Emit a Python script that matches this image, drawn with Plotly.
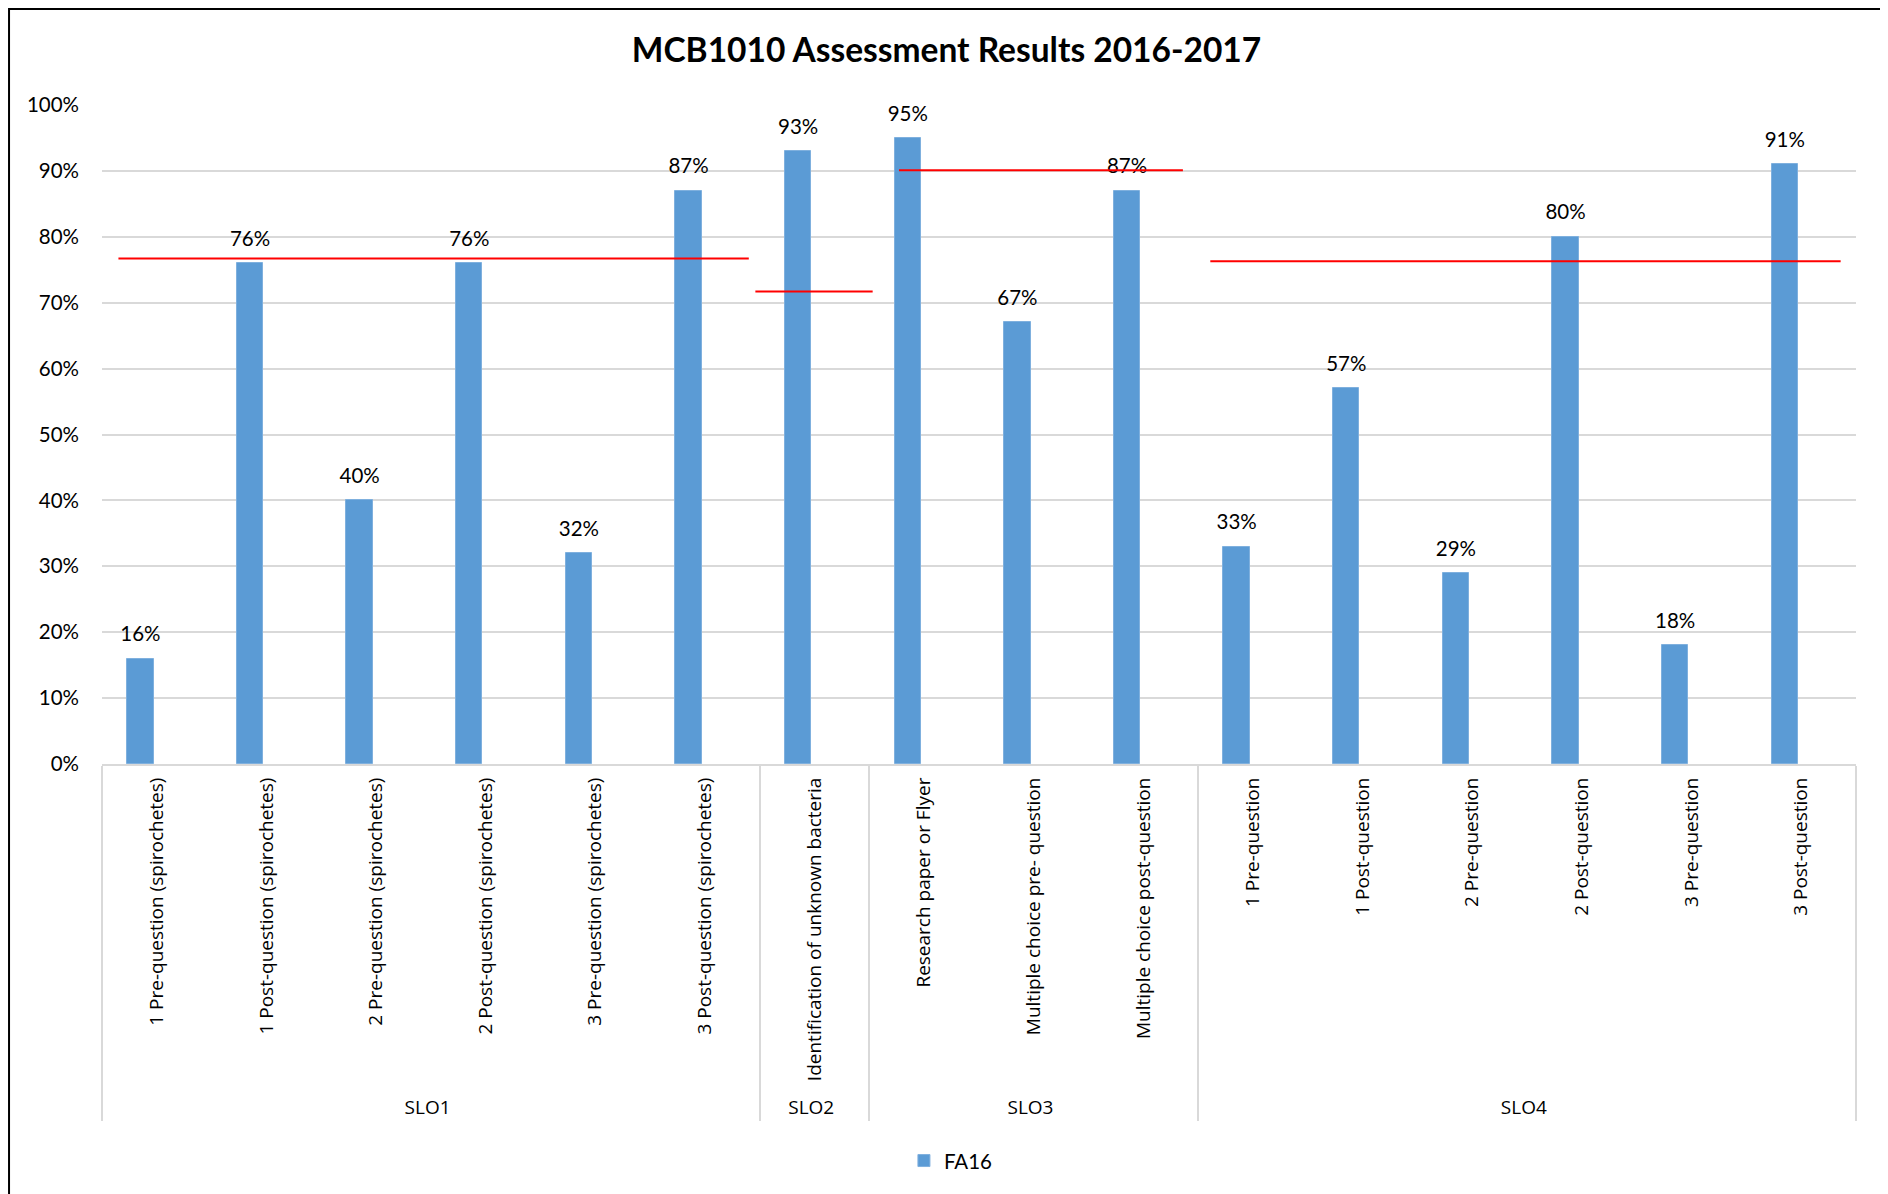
import plotly.graph_objects as go

# outcome groups and questions
groups = ["SLO1"] * 6 + ["SLO2"] + ["SLO3"] * 3 + ["SLO4"] * 6
questions = [
    "1 Pre-question (spirochetes)",
    "1 Post-question (spirochetes)",
    "2 Pre-question (spirochetes)",
    "2 Post-question (spirochetes)",
    "3 Pre-question (spirochetes)",
    "3 Post-question (spirochetes)",
    "Identification of unknown bacteria",
    "Research paper or Flyer",
    "Multiple choice pre- question",
    "Multiple choice post-question",
    "1 Pre-question",
    "1 Post-question",
    "2 Pre-question",
    "2 Post-question",
    "3 Pre-question",
    "3 Post-question",
]
fa16 = [16, 76, 40, 76, 32, 87, 93, 95, 67, 87, 33, 57, 29, 80, 18, 91]

# red target lines per SLO (value, start, end in category positions)
target_values = [76.7, 71.7, 90.1, 76.3]
target_start = [-0.35, 5.46, 6.77, 9.61]
target_end = [5.40, 6.53, 9.36, 15.36]

bar_width = 0.24
bar_offset = -0.27   # bars sit left of the category centre (Excel cluster)

fig = go.Figure()

fig.add_trace(go.Bar(
    x=[groups, questions],
    y=fa16,
    name="FA16",
    marker=dict(color="#5b9bd5", line=dict(color="#7fb0de", width=1)),
    width=bar_width,
    offset=bar_offset,
    hovertemplate="%{x}: %{y}%<extra></extra>",
))

# value labels, placed over the bar centres on a hidden linear axis
label_x = [i + bar_offset + bar_width / 2 for i in range(len(fa16))]
fig.add_trace(go.Scatter(
    x=label_x, y=fa16,
    mode="markers+text",
    text=[f"{v}%" for v in fa16],
    textposition="top center",
    textfont=dict(family="Lato", size=20.5, color="#000000"),
    marker=dict(size=18, opacity=0),
    xaxis="x2",
    showlegend=False,
    hoverinfo="skip",
    cliponaxis=False,
))

# target lines
for val, x0, x1 in zip(target_values, target_start, target_end):
    fig.add_trace(go.Scatter(
        x=[x0, x1], y=[val, val],
        mode="lines",
        line=dict(color="#ff0000", width=2),
        xaxis="x2",
        showlegend=False,
        hoverinfo="skip",
    ))

fig.update_layout(
    width=1880, height=1186,
    paper_bgcolor="white",
    plot_bgcolor="white",
    title=dict(
        text="<b>MCB1010 Assessment Results 2016-2017</b>",
        x=0.4992, xanchor="center", xref="container",
        y=0.964, yanchor="middle",
        font=dict(family="Lato", size=33.5, color="#000000"),
    ),
    margin=dict(l=94, r=32, t=97, b=430),
    bargap=0,
    xaxis=dict(
        type="multicategory",
        tickangle=-90,
        tickfont=dict(family="Open Sans", size=19, color="#000000"),
        ticklabelstandoff=4,
        showgrid=False,
        showline=True, linecolor="#d9d9d9", linewidth=2,
        showdividers=True, dividercolor="#d9d9d9", dividerwidth=2,
        range=[-0.5, 15.5],
        automargin=False,
    ),
    xaxis2=dict(
        overlaying="x", range=[-0.5, 15.5], visible=False,
    ),
    yaxis=dict(
        range=[0, 100],
        dtick=10,
        ticksuffix="%",
        tickfont=dict(family="Lato", size=20.5, color="#000000"),
        showgrid=True, gridcolor="#d9d9d9", gridwidth=2,
        zeroline=False,
        ticks="", ticklen=0,
        ticklabelstandoff=22,
        automargin=False,
    ),
    legend=dict(
        orientation="h",
        x=0.484, xanchor="center",
        y=-0.602, yanchor="middle",
        itemwidth=30,
        font=dict(family="Lato", size=20.5, color="#000000"),
    ),
    showlegend=True,
    shapes=[dict(
        type="rect", xref="paper", yref="paper",
        x0=-0.053, x1=1.0165, y0=-0.66, y1=1.1457,
        line=dict(color="#000000", width=2),
        fillcolor="rgba(0,0,0,0)", layer="below",
    )],
)

fig.write_html("out.html")
